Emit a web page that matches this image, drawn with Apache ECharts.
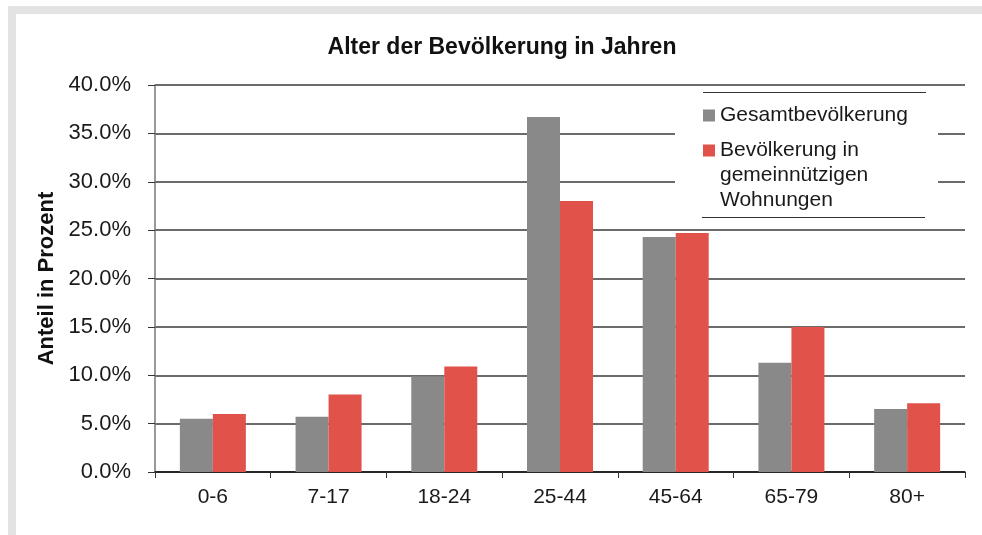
<!DOCTYPE html>
<html>
<head>
<meta charset="utf-8">
<script src="https://cdn.jsdelivr.net/npm/echarts@6/dist/echarts.min.js"></script>
<style>
  html, body { margin: 0; padding: 0; background: #fff; }
  #frame { position: absolute; left: 8px; top: 6px; width: 974px; height: 529px;
           border-top: 8px solid #e3e3e3; border-left: 8px solid #e3e3e3; box-sizing: border-box; }
  #chart { position: absolute; left: 0; top: 0; width: 982px; height: 535px; }
</style>
</head>
<body>
<div id="frame"></div>
<div id="chart"></div>
<script>
// Altersgruppen
const categories = ['0-6', '7-17', '18-24', '25-44', '45-64', '65-79', '80+'];
// Anteil in Prozent
const gesamt = [5.5, 5.7, 9.9, 36.7, 24.3, 11.3, 6.5];
const gemeinnuetzig = [6.0, 8.0, 10.9, 28.0, 24.7, 15.0, 7.1];
const yTicks = [0, 5, 10, 15, 20, 25, 30, 35, 40];

const nameA = 'Gesamtbevölkerung';
const nameB = 'Bevölkerung in gemeinnützigen Wohnungen';

const font = '"Liberation Sans", Arial, sans-serif';
const chart = echarts.init(document.getElementById('chart'));

const legendText = { fontFamily: font, fontSize: 21, lineHeight: 25, color: '#1a1a1a' };

const option = {
  animation: false,
  title: {
    text: 'Alter der Bevölkerung in Jahren',
    left: 497,
    textAlign: 'center',
    top: 31,
    textStyle: { fontFamily: font, fontSize: 23, fontWeight: 'bold', color: '#111' }
  },
  grid: { left: 155, right: 17, top: 85, bottom: 63 },
  legend: [
    {
      data: [nameA], orient: 'vertical', left: 703, top: 103, padding: 0,
      itemWidth: 12, itemHeight: 12, icon: 'rect', z: 10,
      textStyle: legendText
    },
    {
      // zwei Leerzeilen davor, damit das Symbol bei der ersten Zeile steht
      data: [nameB], orient: 'vertical', left: 703, top: 88, padding: 0,
      itemWidth: 12, itemHeight: 12, icon: 'rect', z: 10,
      formatter: () => ' \n \nBevölkerung in\ngemeinnützigen\nWohnungen',
      textStyle: legendText
    }
  ],
  graphic: [
    { type: 'rect', z: 5, shape: { x: 675, y: 88, width: 263, height: 136 }, style: { fill: '#fff' } },
    { type: 'line', z: 6, shape: { x1: 703, y1: 92.5, x2: 926, y2: 92.5 }, style: { stroke: '#333', lineWidth: 1 } },
    { type: 'line', z: 6, shape: { x1: 702, y1: 217.5, x2: 925, y2: 217.5 }, style: { stroke: '#333', lineWidth: 1 } }
  ],
  xAxis: {
    type: 'category',
    data: categories,
    axisLine: { lineStyle: { color: '#111', width: 1.5 } },
    axisTick: { show: true, length: 6, lineStyle: { color: '#333' } },
    axisLabel: { fontFamily: font, fontSize: 21, color: '#1a1a1a', margin: 15 }
  },
  yAxis: {
    type: 'value',
    min: yTicks[0],
    max: yTicks[yTicks.length - 1],
    interval: yTicks[1] - yTicks[0],
    name: 'Anteil in Prozent',
    nameLocation: 'middle',
    nameGap: 96,
    nameTextStyle: { fontFamily: font, fontSize: 22, fontWeight: 'bold', color: '#111' },
    axisLine: { show: true, lineStyle: { color: '#777', width: 1.5 } },
    axisTick: { show: true, length: 7, lineStyle: { color: '#333' } },
    axisLabel: {
      fontFamily: font, fontSize: 22, color: '#1a1a1a', margin: 24,
      formatter: v => v.toFixed(1) + '%'
    },
    splitLine: { lineStyle: { color: '#3a3a3a', width: 1.5 } }
  },
  series: [
    {
      name: nameA, type: 'bar', data: gesamt, barWidth: 33, barGap: '0%',
      itemStyle: { color: '#898989' }
    },
    {
      name: nameB, type: 'bar', data: gemeinnuetzig, barWidth: 33,
      itemStyle: { color: '#e0524a' }
    }
  ]
};

chart.setOption(option);
</script>
</body>
</html>
